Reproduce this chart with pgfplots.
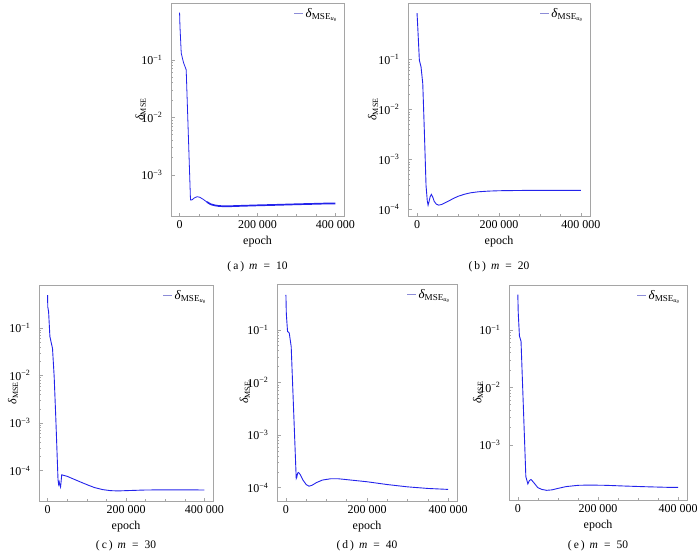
\documentclass[border=0pt]{standalone}
\usepackage{fontspec}
\setmainfont{Liberation Serif}
\usepackage{pgfplots}
\pgfplotsset{compat=1.18}
\definecolor{framecol}{RGB}{165,165,165}
\definecolor{curve}{RGB}{35,35,235}
\definecolor{legcol}{RGB}{140,140,215}
\newcommand{\leg}{\textit{δ}\textsubscript{MSE\textsubscript{\textit{u}\textsubscript{\textit{θ}}}}}
\pgfplotsset{every axis/.append style={
    scale only axis,
    axis line style={framecol, line width=0.6pt},
    xmin=-22000, xmax=422000,
    scaled x ticks=false,
    xtick={0,200000,400000}, xticklabels={0,200~000,400~000},
    minor xtick={50000,100000,150000,250000,300000,350000},
    xtick pos=bottom, ytick pos=left,
    tick style={framecol, line width=0.5pt},
    major tick length=3.5pt, minor tick length=2pt,
    tick align=inside,
    xticklabel style={font=\fontsize{12}{14}\selectfont, yshift=-1pt},
    yticklabel style={font=\fontsize{12}{14}\selectfont, xshift=-5pt},
    xlabel style={font=\fontsize{12}{14}\selectfont, at={(axis description cs:0.5,0)}, anchor=center, yshift=-26pt},
    legend style={at={(axis description cs:0.975,0.985)}, anchor=north east, draw=none, fill=none,
      font=\fontsize{13}{15}\selectfont, inner sep=0pt},
  }}
\begin{document}
\begin{tikzpicture}
\useasboundingbox (0pt,0pt) rectangle (700pt,555pt);

% (a) m = 10
\begin{axis}[ymode=log, at={(171pt,339pt)}, anchor=south west, width=173pt, height=213pt,
  ymin=1.94e-4, ymax=0.97, ytick={1e-3,1e-2,1e-1},
  yticklabels={10\textsuperscript{−3},10\textsuperscript{−2},10\textsuperscript{−1}},
  xlabel={epoch}, ylabel={\textit{δ}\textsubscript{MSE}},
  ylabel style={font=\fontsize{12}{14}\selectfont, at={(axis description cs:-0.175,0.5)}, anchor=center}]
\addlegendimage{color=legcol, line width=0.7pt, legend image code/.code={\draw[color=legcol, line width=0.7pt] (0pt,0pt) -- (9pt,0pt);}}
\addlegendentry{\leg}
\addplot[curve, line width=0.8pt, forget plot] coordinates {
(0,0.66) (1000,0.38) (4300,0.13) (10000,0.09) (17000,0.067) (28000,0.00037)
(32000,0.00037) (38000,0.0004) (45000,0.00042) (52000,0.00041) (60000,0.00038) (70000,0.00034)};
\addplot[curve, line width=1.7pt, forget plot] coordinates {
(70000,0.00034) (80000,0.00031) (90000,0.000297) (100000,0.00029) (110000,0.000287)
(130000,0.000287) (150000,0.00029) (200000,0.000297) (250000,0.000303) (300000,0.00031)
(350000,0.000316) (380000,0.00032) (400000,0.00032)};
\end{axis}

% (b) m = 20
\begin{axis}[ymode=log, at={(408pt,339pt)}, anchor=south west, width=182pt, height=213pt,
  ymin=7.4e-5, ymax=1.35, ytick={1e-4,1e-3,1e-2,1e-1},
  yticklabels={10\textsuperscript{−4},10\textsuperscript{−3},10\textsuperscript{−2},10\textsuperscript{−1}},
  xlabel={epoch}, ylabel={\textit{δ}\textsubscript{MSE}},
  ylabel style={font=\fontsize{12}{14}\selectfont, at={(axis description cs:-0.192,0.5)}, anchor=center}]
\addlegendimage{color=legcol, line width=0.7pt, legend image code/.code={\draw[color=legcol, line width=0.7pt] (0pt,0pt) -- (9pt,0pt);}}
\addlegendentry{\leg}
\addplot[curve, line width=0.9pt, forget plot] coordinates {
(0,0.85) (1600,0.48) (5700,0.097) (9800,0.071) (14000,0.033) (18000,0.0034) (22000,0.0003)
(25000,0.00015) (27000,0.000122) (29000,0.00014) (32000,0.00018) (35000,0.0002) (38000,0.00018)
(42000,0.000145) (47000,0.000128) (53000,0.000122) (60000,0.000126) (70000,0.000138)
(80000,0.000152) (90000,0.000168) (100000,0.000183) (115000,0.000201) (130000,0.000215)
(150000,0.000226) (175000,0.000233) (200000,0.000237) (250000,0.00024) (300000,0.000241) (400000,0.000241)};
\end{axis}

% (c) m = 30
\begin{axis}[ymode=log, at={(39pt,54pt)}, anchor=south west, width=174pt, height=216pt,
  ymin=2.3e-5, ymax=0.8, ytick={1e-4,1e-3,1e-2,1e-1},
  yticklabels={10\textsuperscript{−4},10\textsuperscript{−3},10\textsuperscript{−2},10\textsuperscript{−1}},
  xlabel={epoch}, ylabel={\textit{δ}\textsubscript{MSE}},
  ylabel style={font=\fontsize{12}{14}\selectfont, at={(axis description cs:-0.149,0.5)}, anchor=center}]
\addlegendimage{color=legcol, line width=0.7pt, legend image code/.code={\draw[color=legcol, line width=0.7pt] (0pt,0pt) -- (9pt,0pt);}}
\addlegendentry{\leg}
\addplot[curve, line width=0.9pt, forget plot] coordinates {
(0,0.49) (300,0.28) (2500,0.22) (5800,0.066) (12500,0.037) (16700,0.0095) (21000,0.0012)
(26500,0.000065) (28000,0.000052) (29500,0.000058) (31000,0.00005) (33000,0.000045)
(34500,0.00006) (36000,0.000082) (40000,0.00008) (50000,0.000076) (60000,0.00007)
(75000,0.000062) (90000,0.000055) (105000,0.000049) (120000,0.000044) (140000,0.00004)
(160000,0.000038) (180000,0.0000375) (200000,0.000038) (250000,0.0000392) (300000,0.0000395)
(350000,0.0000395) (400000,0.0000392)};
\end{axis}

% (d) m = 40
\begin{axis}[ymode=log, at={(277pt,54pt)}, anchor=south west, width=180pt, height=217pt,
  ymin=5.6e-5, ymax=0.74, ytick={1e-4,1e-3,1e-2,1e-1},
  yticklabels={10\textsuperscript{−4},10\textsuperscript{−3},10\textsuperscript{−2},10\textsuperscript{−1}},
  xlabel={epoch}, ylabel={\textit{δ}\textsubscript{MSE}},
  ylabel style={font=\fontsize{12}{14}\selectfont, at={(axis description cs:-0.178,0.5)}, anchor=center}]
\addlegendimage{color=legcol, line width=0.7pt, legend image code/.code={\draw[color=legcol, line width=0.7pt] (0pt,0pt) -- (9pt,0pt);}}
\addlegendentry{\leg}
\addplot[curve, line width=0.9pt, forget plot] coordinates {
(0,0.46) (1000,0.2) (4000,0.093) (8200,0.087) (13000,0.048) (25400,0.00015) (27000,0.00016)
(29000,0.00019) (31000,0.000195) (35000,0.00018) (42000,0.00014) (50000,0.000115)
(57000,0.000107) (65000,0.000112) (75000,0.000125) (90000,0.00014) (110000,0.000148)
(130000,0.000148) (160000,0.00014) (200000,0.00013) (250000,0.000115) (300000,0.000104)
(350000,0.000097) (400000,0.000093)};
\end{axis}

% (e) m = 50
\begin{axis}[ymode=log, at={(509pt,55pt)}, anchor=south west, width=178pt, height=215pt,
  ymin=1.1e-4, ymax=0.6, ytick={1e-3,1e-2,1e-1},
  yticklabels={10\textsuperscript{−3},10\textsuperscript{−2},10\textsuperscript{−1}},
  xlabel={epoch}, ylabel={\textit{δ}\textsubscript{MSE}},
  ylabel style={font=\fontsize{12}{14}\selectfont, at={(axis description cs:-0.174,0.5)}, anchor=center}]
\addlegendimage{color=legcol, line width=0.7pt, legend image code/.code={\draw[color=legcol, line width=0.7pt] (0pt,0pt) -- (9pt,0pt);}}
\addlegendentry{\leg}
\addplot[curve, line width=0.9pt, forget plot] coordinates {
(0,0.41) (1000,0.2) (4000,0.078) (8000,0.063) (20000,0.00028) (25000,0.00021) (29000,0.00024)
(33000,0.00025) (40000,0.00022) (50000,0.00018) (60000,0.000168) (72000,0.000162)
(85000,0.000165) (100000,0.000175) (120000,0.000188) (150000,0.000198) (177000,0.0002)
(220000,0.000198) (270000,0.000192) (320000,0.000187) (370000,0.000183) (400000,0.000182)};
\end{axis}

\begin{scope}[font=\fontsize{11.5}{14}\selectfont]
\node at (257.5pt,288pt) {(\hspace{2pt}a\hspace{2pt})\hspace{5pt}\textit{m}\hspace{6pt}=\hspace{6pt}10};
\node at (499pt,288pt) {(\hspace{2pt}b\hspace{2pt})\hspace{5pt}\textit{m}\hspace{6pt}=\hspace{6pt}20};
\node at (126pt,9pt) {(\hspace{2pt}c\hspace{2pt})\hspace{5pt}\textit{m}\hspace{6pt}=\hspace{6pt}30};
\node at (367pt,9pt) {(\hspace{2pt}d\hspace{2pt})\hspace{5pt}\textit{m}\hspace{6pt}=\hspace{6pt}40};
\node at (598pt,9pt) {(\hspace{2pt}e\hspace{2pt})\hspace{5pt}\textit{m}\hspace{6pt}=\hspace{6pt}50};
\end{scope}
\end{tikzpicture}
\end{document}
